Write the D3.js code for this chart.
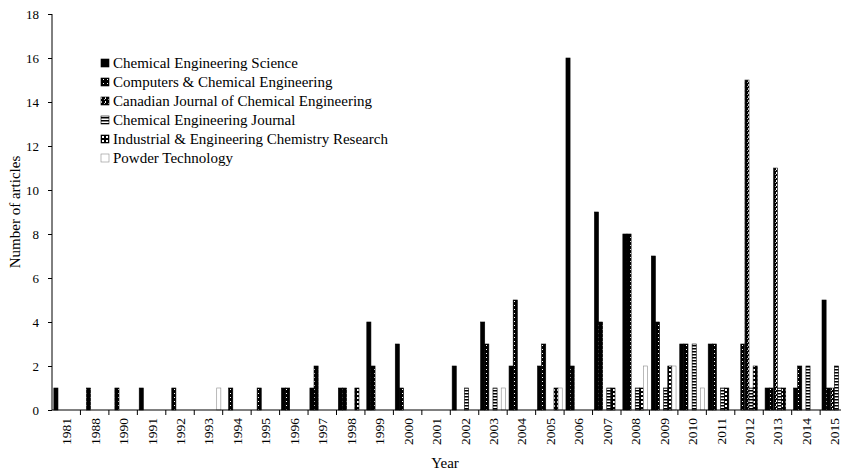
<!DOCTYPE html>
<html>
<head>
<meta charset="utf-8">
<script src="https://cdn.jsdelivr.net/npm/d3@7/dist/d3.min.js"></script>
<style>
  body { margin: 0; background: #fff; }
  svg text { font-family: "Liberation Serif", "Times New Roman", serif; fill: #000; }
</style>
</head>
<body>
<svg id="chart" width="841" height="472"></svg>
<script>
  var years = ["1981","1988","1990","1991","1992","1993","1994","1995","1996","1997","1998","1999","2000","2001",
               "2002","2003","2004","2005","2006","2007","2008","2009","2010","2011","2012","2013","2014","2015"];

  var seriesNames = ["Chemical Engineering Science", "Computers & Chemical Engineering",
                     "Canadian Journal of Chemical Engineering", "Chemical Engineering Journal",
                     "Industrial & Engineering Chemistry Research", "Powder Technology"];

  var ces  = [1,0,0,1,0,0,0,0,1,1,1,4,3,0,2,4,2,2,16,9,8,7,3,3,0,1,1,5];
  var cce  = [0,1,1,0,1,0,1,1,1,2,1,2,1,0,0,3,5,3,2,4,8,4,3,3,3,1,2,1];
  var cjce = [0,0,0,0,0,0,0,0,0,0,0,0,0,0,0,0,0,0,0,0,0,0,0,0,15,11,0,1];
  var cej  = [0,0,0,0,0,0,0,0,0,0,0,0,0,0,1,1,0,0,0,1,1,1,3,1,1,1,2,2];
  var iecr = [0,0,0,0,0,0,0,0,0,0,1,0,0,0,0,0,0,1,0,1,1,2,0,1,2,1,0,0];
  var pt   = [0,0,0,0,0,1,0,0,0,0,0,0,0,0,0,1,0,1,0,0,2,2,1,0,0,0,0,0];

  var yTicks = [0,2,4,6,8,10,12,14,16,18];

  var allSeries = [ces, cce, cjce, cej, iecr, pt];
  var fills = ["#000", "url(#pCCE)", "url(#pCJCE)", "url(#pCEJ)", "url(#pIECR)", "#fff"];
  var strokes = ["#000", "#000", "#333", "#000", "#000", "#8c8c8c"];

  var mLeft = 52, mTop = 14, mBottom = 410, step = 28.45;

  var svg = d3.select("#chart");
  var defs = svg.append("defs");

  // pattern fills, aligned to the page like the office ones
  function pattern(id, w, h, bg, draw) {
    var p = defs.append("pattern").attr("id", id).attr("patternUnits", "userSpaceOnUse")
        .attr("width", w).attr("height", h);
    p.append("rect").attr("width", w).attr("height", h).attr("fill", bg);
    draw(p);
  }
  pattern("pCCE", 4, 4, "#000", function (p) {
    p.append("rect").attr("x", 2).attr("y", 1).attr("width", 1).attr("height", 1).attr("fill", "#fff");
  });
  pattern("pCJCE", 4, 4, "#000", function (p) {
    p.append("rect").attr("x", 0).attr("y", 0).attr("width", 1).attr("height", 2).attr("fill", "#fff");
    p.append("rect").attr("x", 3).attr("y", 2).attr("width", 1).attr("height", 1).attr("fill", "#bbb");
  });
  pattern("pCEJ", 4, 3, "#fff", function (p) {
    p.append("rect").attr("x", 0).attr("y", 0).attr("width", 4).attr("height", 1.5).attr("fill", "#000");
  });
  pattern("pIECR", 4, 4, "#000", function (p) {
    p.append("rect").attr("x", 1).attr("y", 1).attr("width", 2).attr("height", 2).attr("fill", "#fff");
  });

  var x0 = d3.scaleBand().domain(years).range([mLeft, mLeft + step * years.length]).padding(0);
  var x1 = d3.scaleBand().domain(d3.range(allSeries.length)).range([0, x0.bandwidth()])
      .paddingInner(0).paddingOuter(0.45);
  var y = d3.scaleLinear().domain([0, 18]).range([mBottom, mTop]);

  // bars
  allSeries.forEach(function (vals, s) {
    var rows = vals.map(function (v, i) { return { year: years[i], v: v }; })
        .filter(function (d) { return d.v > 0; });
    svg.append("g").selectAll("rect").data(rows).enter().append("rect")
      .attr("x", function (d) { return x0(d.year) + x1(s); })
      .attr("y", function (d) { return y(d.v); })
      .attr("width", x1.bandwidth())
      .attr("height", function (d) { return mBottom - y(d.v); })
      .attr("fill", fills[s])
      .attr("stroke", strokes[s])
      .attr("stroke-width", 0.6);
  });

  // y axis
  var yAxis = svg.append("g").attr("transform", "translate(" + mLeft + ",0)")
      .call(d3.axisLeft(y).tickValues(yTicks).tickSize(4).tickPadding(9));
  yAxis.select(".domain").attr("stroke", "#000").attr("d", "M0," + mTop + "V" + mBottom);
  yAxis.selectAll("text").style("font-size", "13px").style("font-family", "Liberation Serif");

  // x axis: ticks on category boundaries
  var xAxis = svg.append("g").attr("transform", "translate(0," + mBottom + ")");
  xAxis.append("line").attr("x1", mLeft).attr("x2", 841).attr("stroke", "#000");
  xAxis.selectAll("line.tick").data(years).enter().append("line")
      .attr("class", "tick")
      .attr("x1", function (d) { return x0(d) + x0.bandwidth(); })
      .attr("x2", function (d) { return x0(d) + x0.bandwidth(); })
      .attr("y1", 0).attr("y2", 5).attr("stroke", "#000");
  xAxis.selectAll("text").data(years).enter().append("text")
      .attr("transform", function (d) { return "translate(" + (x0(d) + x0.bandwidth() / 2 + 5) + ",8) rotate(-90)"; })
      .attr("text-anchor", "end")
      .style("font-size", "13.5px")
      .text(function (d) { return d; });

  // axis titles
  svg.append("text").attr("x", 445).attr("y", 468).attr("text-anchor", "middle")
      .style("font-size", "15px").text("Year");
  svg.append("text").attr("transform", "translate(20," + ((mTop + mBottom) / 2) + ") rotate(-90)")
      .attr("text-anchor", "middle").style("font-size", "15px").text("Number of articles");

  // legend
  var legend = svg.append("g").attr("transform", "translate(101,63)");
  var item = legend.selectAll("g").data(seriesNames).enter().append("g")
      .attr("transform", function (d, i) { return "translate(0," + (i * 19) + ")"; });
  item.append("rect").attr("x", 0).attr("y", -4).attr("width", 8).attr("height", 8)
      .attr("fill", function (d, i) { return fills[i]; })
      .attr("stroke", function (d, i) { return i === 5 ? "#8c8c8c" : "#000"; })
      .attr("stroke-width", 0.6);
  item.append("text").attr("x", 12).attr("y", 5).style("font-size", "15px")
      .text(function (d) { return d; });
</script>
</body>
</html>
